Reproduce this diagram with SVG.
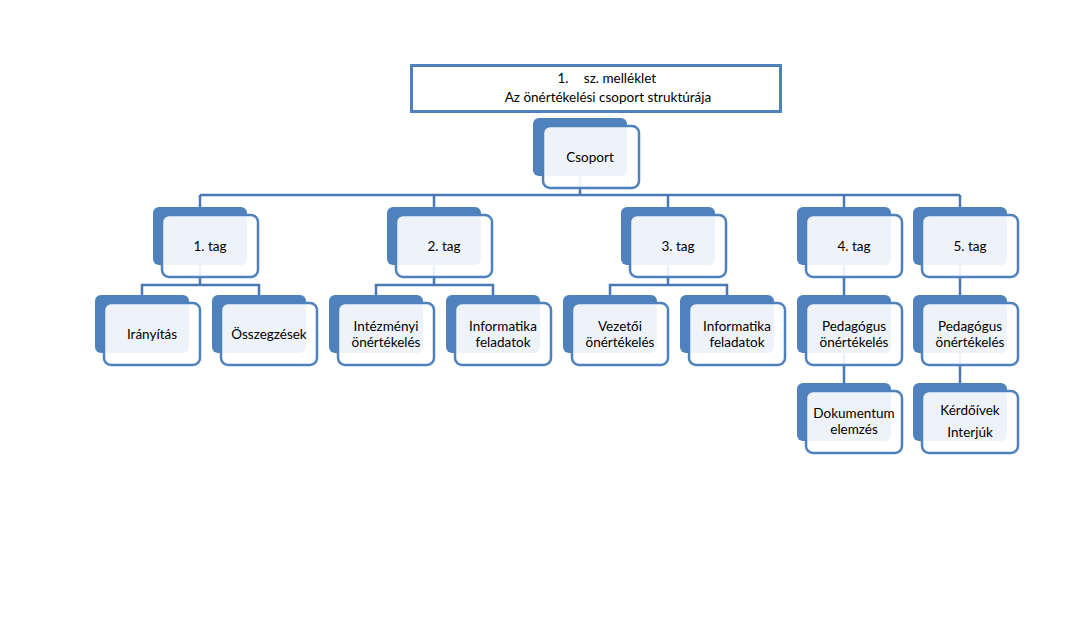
<svg xmlns="http://www.w3.org/2000/svg" width="1078" height="640" viewBox="0 0 1078 640">
<style>
.bk{fill:#4f81bd}
.fr{fill:#ffffff;fill-opacity:0.9;stroke:#4f81bd;stroke-width:2.5}
.t{font-family:Lato,"Liberation Sans",sans-serif;font-size:13.5px;fill:#000;text-anchor:middle}
.c{fill:none;stroke:#4a78b2;stroke-width:2.5}
</style>
<rect width="1078" height="640" fill="#ffffff"/>
<g id="title">
<rect x="411.5" y="65.5" width="369" height="46" fill="#ffffff" stroke="#4f81bd" stroke-width="3"/>
<text class="t" x="608" y="83"><tspan x="563">1.</tspan><tspan x="620">sz. melléklet</tspan></text>
<text class="t" x="608" y="102">Az önértékelési csoport struktúrája</text>
</g>
<g id="connectors">
<path class="c" d="M580 176V195M200 195H960M200 195V207M434 195V207M668 195V207M844 195V207M960 195V207"/>
<path class="c" d="M200 265V285M142 295V285H259V295"/>
<path class="c" d="M434 265V285M376 295V285H493V295"/>
<path class="c" d="M668 265V285M610 295V285H727V295"/>
<path class="c" d="M844 265V295M844 353V383"/>
<path class="c" d="M960 265V295M960 353V383"/>
</g>
<g id="csoport"><rect class="bk" x="533" y="118" width="94" height="58" rx="6"/><rect class="fr" x="543" y="126" width="96" height="62" rx="7"/><text class="t" x="590" y="162">Csoport</text></g>
<g id="tag1"><rect class="bk" x="153" y="207" width="94" height="58" rx="6"/><rect class="fr" x="162" y="215" width="96" height="62" rx="7"/><text class="t" x="210" y="251">1. tag</text></g>
<g id="tag2"><rect class="bk" x="387" y="207" width="94" height="58" rx="6"/><rect class="fr" x="396" y="215" width="96" height="62" rx="7"/><text class="t" x="444" y="251">2. tag</text></g>
<g id="tag3"><rect class="bk" x="621" y="207" width="94" height="58" rx="6"/><rect class="fr" x="630" y="215" width="96" height="62" rx="7"/><text class="t" x="678" y="251">3. tag</text></g>
<g id="tag4"><rect class="bk" x="797" y="207" width="94" height="58" rx="6"/><rect class="fr" x="806" y="215" width="96" height="62" rx="7"/><text class="t" x="854" y="251">4. tag</text></g>
<g id="tag5"><rect class="bk" x="913" y="207" width="94" height="58" rx="6"/><rect class="fr" x="922" y="215" width="96" height="62" rx="7"/><text class="t" x="970" y="251">5. tag</text></g>
<g id="iranyitas"><rect class="bk" x="95" y="295" width="94" height="58" rx="6"/><rect class="fr" x="104" y="303" width="96" height="62" rx="7"/><text class="t" x="152" y="339">Irányítás</text></g>
<g id="osszegzesek"><rect class="bk" x="212" y="295" width="94" height="58" rx="6"/><rect class="fr" x="221" y="303" width="96" height="62" rx="7"/><text class="t" x="269" y="339">Összegzések</text></g>
<g id="intezmenyi"><rect class="bk" x="329" y="295" width="94" height="58" rx="6"/><rect class="fr" x="338" y="303" width="96" height="62" rx="7"/><text class="t" x="386" y="331">Intézményi</text><text class="t" x="386" y="347">önértékelés</text></g>
<g id="informatika2"><rect class="bk" x="446" y="295" width="94" height="58" rx="6"/><rect class="fr" x="455" y="303" width="96" height="62" rx="7"/><text class="t" x="503" y="331">Informatika</text><text class="t" x="503" y="347">feladatok</text></g>
<g id="vezetoi"><rect class="bk" x="563" y="295" width="94" height="58" rx="6"/><rect class="fr" x="572" y="303" width="96" height="62" rx="7"/><text class="t" x="620" y="331">Vezetői</text><text class="t" x="620" y="347">önértékelés</text></g>
<g id="informatika3"><rect class="bk" x="680" y="295" width="94" height="58" rx="6"/><rect class="fr" x="689" y="303" width="96" height="62" rx="7"/><text class="t" x="737" y="331">Informatika</text><text class="t" x="737" y="347">feladatok</text></g>
<g id="pedagogus4"><rect class="bk" x="797" y="295" width="94" height="58" rx="6"/><rect class="fr" x="806" y="303" width="96" height="62" rx="7"/><text class="t" x="854" y="331">Pedagógus</text><text class="t" x="854" y="347">önértékelés</text></g>
<g id="pedagogus5"><rect class="bk" x="913" y="295" width="94" height="58" rx="6"/><rect class="fr" x="922" y="303" width="96" height="62" rx="7"/><text class="t" x="970" y="331">Pedagógus</text><text class="t" x="970" y="347">önértékelés</text></g>
<g id="dokumentum"><rect class="bk" x="797" y="383" width="94" height="58" rx="6"/><rect class="fr" x="806" y="391" width="96" height="62" rx="7"/><text class="t" x="854" y="418">Dokumentum</text><text class="t" x="854" y="434">elemzés</text></g>
<g id="kerdoivek"><rect class="bk" x="913" y="383" width="94" height="58" rx="6"/><rect class="fr" x="922" y="391" width="96" height="62" rx="7"/><text class="t" x="970" y="415">Kérdőívek</text><text class="t" x="970" y="437">Interjúk</text></g>
</svg>
